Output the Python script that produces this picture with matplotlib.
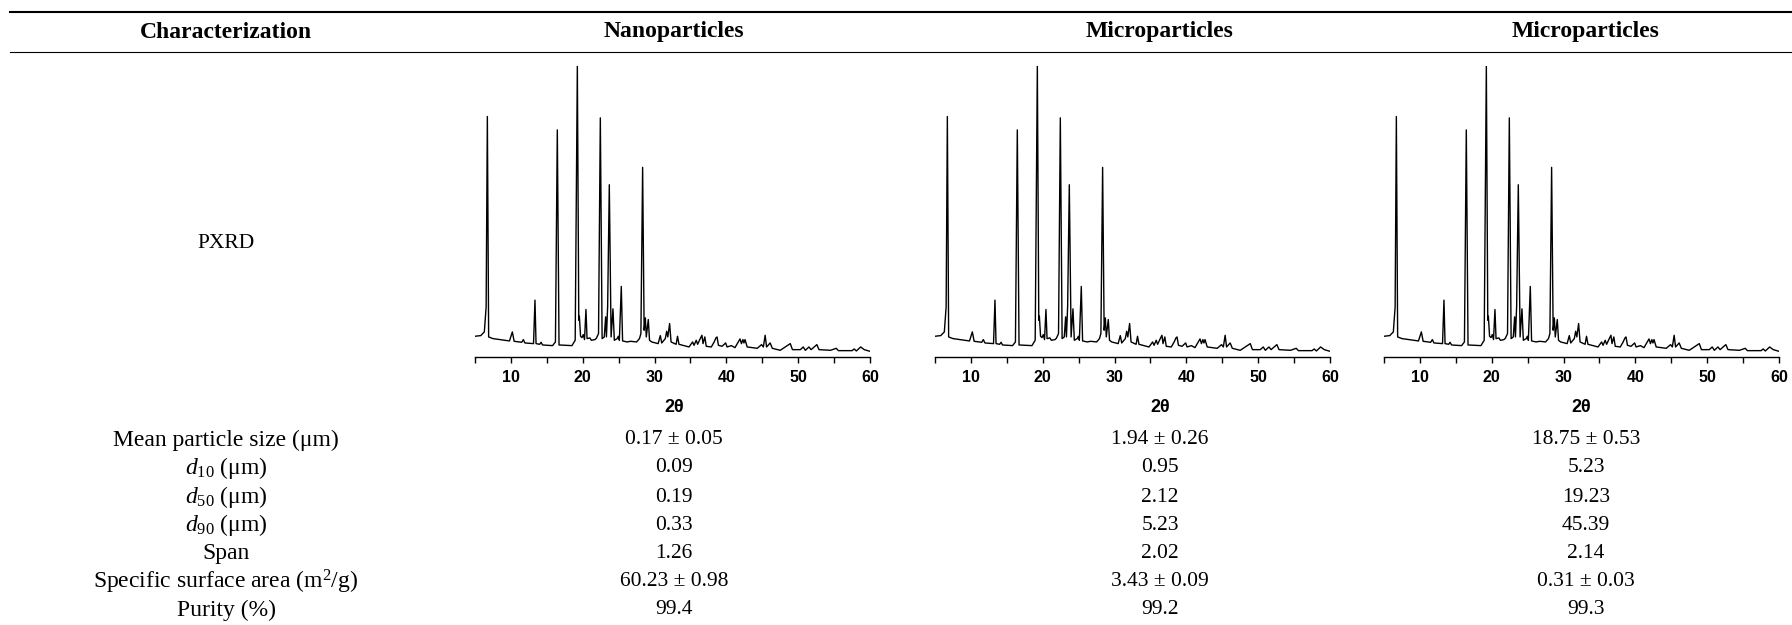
import matplotlib
matplotlib.use("Agg")
import matplotlib.pyplot as plt
from matplotlib.lines import Line2D
from matplotlib.ticker import MultipleLocator

# ---- data ----
col_headers = ["Characterization", "Nanoparticles", "Microparticles", "Microparticles"]

row_labels = [
    "Mean particle size (μm)",
    r"$d_{10}$ (μm)",
    r"$d_{50}$ (μm)",
    r"$d_{90}$ (μm)",
    "Span",
    r"Specific surface area (m$^{2}$/g)",
    "Purity (%)",
]
nano_values = ["0.17 ± 0.05", "0.09", "0.19", "0.33", "1.26", "60.23 ± 0.98", "99.4"]
micro1_values = ["1.94 ± 0.26", "0.95", "2.12", "5.23", "2.02", "3.43 ± 0.09", "99.2"]
micro2_values = ["18.75 ± 0.53", "5.23", "19.23", "45.39", "2.14", "0.31 ± 0.03", "99.3"]

# PXRD trace (2-theta, intensity a.u.); the three patterns look the same
pxrd_2theta = [
    5.0, 5.8, 6.3, 6.55, 6.72, 6.9, 7.5, 9.8, 10.2, 10.45, 11.5, 11.73, 11.95,
    13.15, 13.35, 13.5, 14.0, 14.2, 14.4, 15.8, 16.2, 16.46, 16.7, 18.5, 18.95,
    19.25, 19.45, 19.53, 19.7, 19.9, 20.08, 20.25, 20.45, 20.6, 21.0, 21.2, 21.7,
    21.9, 22.2, 22.45, 22.7, 23.0, 23.19, 23.3, 23.47, 23.7, 23.95, 24.21, 24.4,
    24.8, 24.96, 25.1, 25.37, 25.55, 26.2, 26.67, 27.5, 27.9, 28.1, 28.34, 28.55,
    28.72, 28.85, 29.13, 29.3, 29.6, 30.5, 30.8, 31.0, 31.5, 31.69, 31.85, 32.1,
    32.3, 33.0, 33.2, 33.4, 34.8, 35.3, 35.5, 35.8, 36.0, 36.3, 36.6, 36.75, 37.0,
    37.2, 37.9, 38.3, 38.55, 38.7, 38.9, 39.4, 39.9, 40.1, 40.7, 41.2, 41.9, 42.1,
    42.3, 42.45, 42.6, 42.9, 44.3, 44.9, 45.15, 45.4, 45.6, 46.1, 46.4, 47.5, 48.9,
    49.2, 50.3, 50.7, 51.0, 51.5, 51.8, 52.6, 52.9, 54.5, 55.3, 55.6, 57.5, 57.8,
    58.1, 58.7, 59.2, 60.0,
]
pxrd_intensity = [
    62, 64, 75, 150, 719, 60, 55, 48, 75, 47, 44, 52, 42,
    40, 170, 40, 38, 44, 36, 34, 45, 679, 36, 34, 50,
    870, 110, 122, 62, 58, 67, 52, 142, 55, 57, 50, 52,
    56, 70, 715, 55, 60, 120, 60, 152, 515, 60, 144, 50,
    55, 62, 50, 211, 48, 45, 47, 45, 55, 70, 567, 80,
    117, 60, 112, 50, 45, 40, 64, 42, 55, 77, 60, 100,
    45, 38, 62, 38, 30, 45, 35, 50, 38, 52, 65, 40, 60,
    32, 30, 45, 57, 60, 35, 32, 42, 30, 34, 28, 54, 40,
    52, 42, 52, 30, 26, 37, 30, 65, 30, 42, 26, 20, 40,
    22, 22, 30, 20, 30, 22, 37, 22, 20, 26, 19, 19, 24,
    18, 30, 22, 17,
]

W, H = 1792, 625
fig = plt.figure(figsize=(W / 100, H / 100), dpi=100)
plt.rcParams['mathtext.fontset'] = 'custom'
plt.rcParams['mathtext.rm'] = 'Liberation Serif'
plt.rcParams['mathtext.it'] = 'Liberation Serif:italic'

serif = "Liberation Serif"
sans = "Liberation Sans"


def fx(x):
    return x / W


def fy(y):
    return 1 - y / H


col_x = [226, 674, 1160, 1586]

# rules
fig.add_artist(Line2D([fx(10), 1], [fy(12), fy(12)], color="black", lw=1.5))
fig.add_artist(Line2D([fx(10), 1], [fy(52), fy(52)], color="black", lw=0.8))

for x, h in zip(col_x, col_headers):
    fig.text(fx(x), fy(32), h, ha="center", va="center", family=serif,
             fontweight="bold", fontsize=17)

fig.text(fx(col_x[0]), fy(243), "PXRD", ha="center", va="center", family=serif, fontsize=15.5)

row_y = [440, 468, 497, 525, 553, 582, 610]
for y, lab, a, b, c in zip(row_y, row_labels, nano_values, micro1_values, micro2_values):
    fig.text(fx(col_x[0]), fy(y), lab, ha="center", va="center", family=serif, fontsize=17)
    fig.text(fx(col_x[1]), fy(y), a, ha="center", va="center", family=serif, fontsize=15.5)
    fig.text(fx(col_x[2]), fy(y), b, ha="center", va="center", family=serif, fontsize=15.5)
    fig.text(fx(col_x[3]), fy(y), c, ha="center", va="center", family=serif, fontsize=15.5)

# PXRD panels
panel_left = [475, 935, 1384]
label_x = [674, 1160, 1581]
axis_y, top_y = 357, 66
for left, lx in zip(panel_left, label_x):
    ax = fig.add_axes([fx(left), fy(axis_y), 395 / W, (axis_y - top_y) / H])
    ax.plot(pxrd_2theta, pxrd_intensity, color="black", lw=1.0)
    ax.set_xlim(5, 60)
    ax.set_ylim(0, 870)
    for s in ["top", "left", "right"]:
        ax.spines[s].set_visible(False)
    ax.spines["bottom"].set_linewidth(1.0)
    ax.set_yticks([])
    ax.xaxis.set_major_locator(MultipleLocator(10))
    ax.xaxis.set_minor_locator(MultipleLocator(5))
    ax.tick_params(axis="x", which="both", direction="out", length=4.5, width=1.0)
    ax.tick_params(axis="x", which="major", pad=5)
    for t in ax.get_xticklabels():
        t.set_fontfamily(sans)
        t.set_fontweight("bold")
        t.set_fontsize(11.5)
    ax.patch.set_visible(False)
    fig.text(fx(lx), fy(407), "2θ", ha="center", va="center", family=sans,
             fontweight="bold", fontsize=13)

fig.savefig("out.png", dpi=100)
